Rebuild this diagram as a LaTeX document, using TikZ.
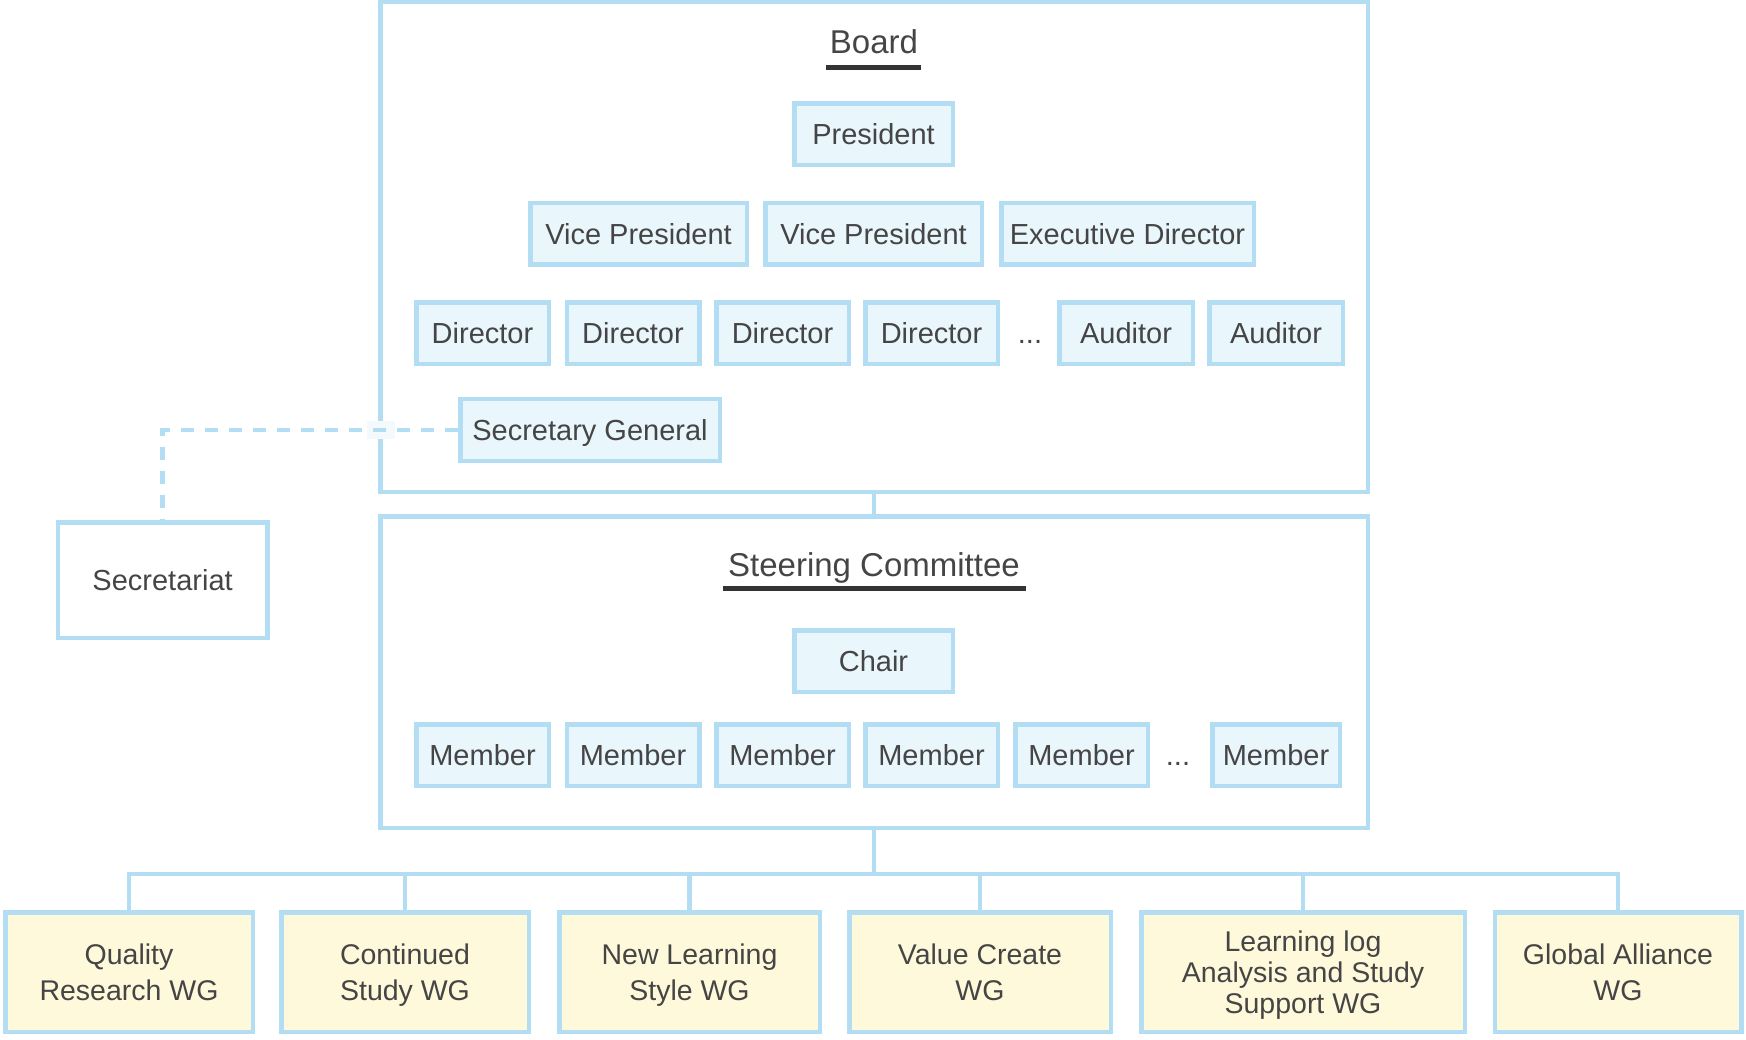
\documentclass[tikz,border=0pt]{standalone}
\usepackage{fontspec}
\setmainfont{Liberation Sans}
\definecolor{bord}{HTML}{B3DDF2}
\definecolor{lite}{HTML}{E9F6FC}
\definecolor{wgfill}{HTML}{FFF9DB}
\definecolor{txt}{HTML}{454545}
\definecolor{ulc}{HTML}{333333}
\definecolor{patch}{HTML}{F3F9FD}
\begin{document}
\begin{tikzpicture}[x=1pt,y=-1pt,
  role/.style={draw=bord, fill=lite, line width=4.5pt, inner sep=0pt,
    minimum height=61.5pt, font=\fontsize{29}{34}\selectfont, text=txt,
    text height=20.8pt, text depth=0pt},
  wg/.style={draw=bord, fill=wgfill, line width=4.5pt, inner sep=0pt,
    minimum height=119.5pt, align=center, text=txt, text depth=0pt,
    font=\fontsize{28.5}{35.6}\selectfont},
  frame/.style={draw=bord, line width=4.5pt, inner sep=0pt},
  conn/.style={draw=bord, line width=4.5pt},
  dashconn/.style={draw=bord, line width=4.3pt, dash pattern=on 13pt off 11pt},
  title/.style={font=\fontsize{33}{38}\selectfont, text=txt, inner sep=0pt,
    text height=23.6pt, text depth=0pt},
  uline/.style={draw=ulc, line width=5pt},
  dots/.style={font=\fontsize{29}{34}\selectfont, text=txt, inner sep=0pt,
    text height=20.8pt, text depth=0pt}]
\useasboundingbox (0,0) rectangle (1746,1040);

% big frames
\node[frame, minimum width=987.5pt, minimum height=489.5pt] (board) at (874,247) {};
\node[frame, minimum width=987.5pt, minimum height=311.5pt] (steer) at (874,672) {};

% Board content
\node[title] (boardt) at (874,42) {Board};
\draw[uline] (826,68) -- (921,68);
\node[role, minimum width=158.5pt] (pres) at (873.5,134.5) {President};
\node[role, minimum width=216.5pt] (vp1) at (638.5,234) {Vice President};
\node[role, minimum width=216.5pt] (vp2) at (873.5,234) {Vice President};
\node[role, minimum width=252.5pt] (ed) at (1127.5,234) {Executive Director};
\node[role, minimum width=132.5pt] (d1) at (482.5,333.5) {Director};
\node[role, minimum width=132.5pt] (d2) at (633,333.5) {Director};
\node[role, minimum width=132.5pt] (d3) at (782.5,333.5) {Director};
\node[role, minimum width=132.5pt] (d4) at (931.5,333.5) {Director};
\node[dots] (ddots) at (1030,333.5) {...};
\node[role, minimum width=133.5pt] (a1) at (1126,333.5) {Auditor};
\node[role, minimum width=133.5pt] (a2) at (1276,333.5) {Auditor};
\node[role, minimum width=259.5pt] (sg) at (590,430) {Secretary General};

% Secretariat
\node[frame, fill=white, minimum width=209.5pt, minimum height=115.5pt,
  font=\fontsize{29}{34}\selectfont, text=txt, text height=20.8pt, text depth=0pt]
  (sec) at (162.6,580) {Secretariat};
\fill[patch] (367,421) rectangle (395,439);
\draw[dashconn] (sg.west) -| (sec.north);

% Steering committee content
\node[title] (steert) at (874,564.5) {Steering Committee};
\draw[uline] (722.7,588) -- (1025.5,588);
\node[role, minimum width=158.5pt] (chair) at (873.5,661) {Chair};
\node[role, minimum width=132.5pt] (m1) at (482.5,755) {Member};
\node[role, minimum width=132.5pt] (m2) at (633,755) {Member};
\node[role, minimum width=132.5pt] (m3) at (782.5,755) {Member};
\node[role, minimum width=132.5pt] (m4) at (931.5,755) {Member};
\node[role, minimum width=132.5pt] (m5) at (1081.5,755) {Member};
\node[dots] (mdots) at (1178,755) {...};
\node[role, minimum width=127.5pt] (m6) at (1276,755) {Member};

% connector board - steering
\draw[conn] (board.south) -- (steer.north);

% working groups
\node[wg, minimum width=247.5pt] (wg1) at (129,972) {Quality\\Research WG};
\node[wg, minimum width=247.5pt] (wg2) at (405,972) {Continued\\Study WG};
\node[wg, minimum width=260.5pt] (wg3) at (689.5,972) {New Learning\\Style WG};
\node[wg, minimum width=261.5pt] (wg4) at (980,972) {Value Create\\WG};
\node[wg, minimum width=323.5pt, font=\fontsize{28.5}{31}\selectfont] (wg5) at (1303,972) {Learning log\\Analysis and Study\\Support WG};
\node[wg, minimum width=246.5pt] (wg6) at (1618,972) {Global Alliance\\WG};

\coordinate (bus) at (874,874);
\draw[conn] (steer.south) -- (bus);
\foreach \w in {wg1,wg2,wg3,wg4,wg5,wg6}
  \draw[conn] (\w.north) |- (bus);
\end{tikzpicture}
\end{document}
